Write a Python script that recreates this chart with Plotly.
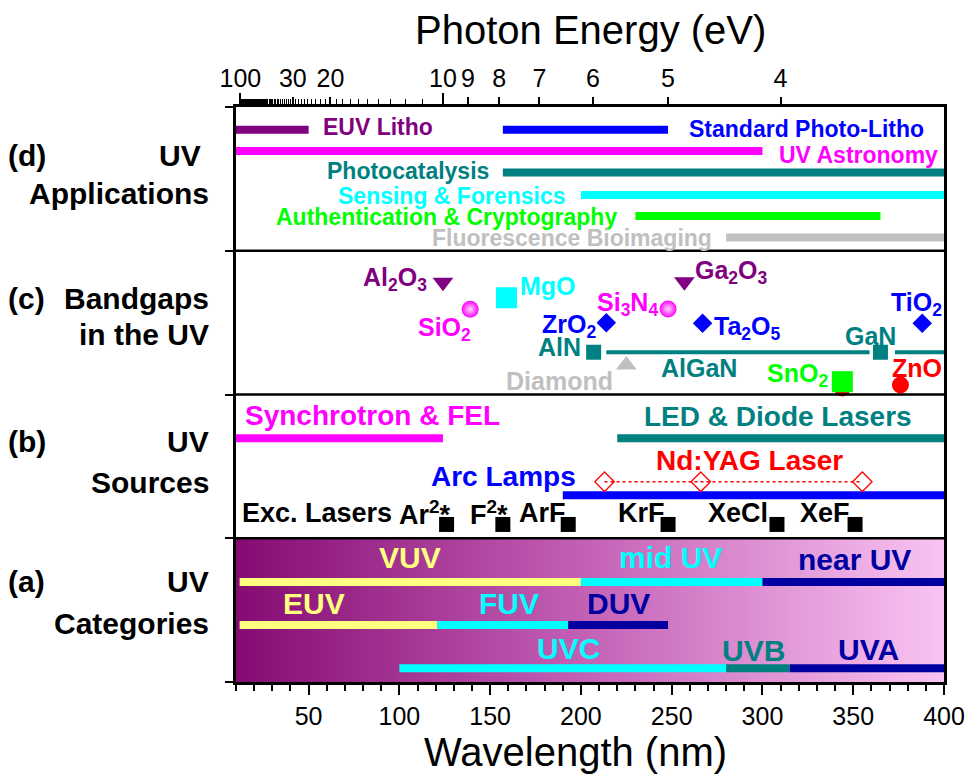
import plotly.graph_objects as go

FONT = "Liberation Sans, Arial, sans-serif"
HC = 1239.84  # eV*nm, converts photon energy to wavelength

# ---------------- (d) UV applications: wavelength spans (nm) ----------------
app_labels = ["EUV Litho", "Standard Photo-Litho", "UV Astronomy", "Photocatalysis",
              "Sensing & Forensics", "Authentication & Cryptography", "Fluorescence Bioimaging"]
app_start = [10, 157, 10, 157, 200, 230, 280]
app_end = [50, 248, 300, 400, 400, 365, 400]

# ---------------- (c) bandgaps expressed as wavelength (nm) ----------------
gap_labels = ["Al<sub>2</sub>O<sub>3</sub>", "SiO<sub>2</sub>", "MgO", "ZrO<sub>2</sub>", "AlN",
              "Diamond", "Si<sub>3</sub>N<sub>4</sub>", "Ga<sub>2</sub>O<sub>3</sub>",
              "Ta<sub>2</sub>O<sub>5</sub>", "SnO<sub>2</sub>", "GaN", "ZnO", "TiO<sub>2</sub>"]
gap_nm = [124, 139, 159, 214, 207, 225, 248, 257, 267, 344, 365, 376, 388]
algan_start = [214, 373]
algan_end = [359, 400]
hidden_zno_nm = [344]

# ---------------- (b) UV sources ----------------
src_labels = ["Synchrotron & FEL", "LED & Diode Lasers", "Arc Lamps"]
src_start = [10, 220, 190]
src_end = [124, 400, 400]
ndyag_nm = [213, 266, 355]
excimer_labels = ["Ar<sup>2</sup>*", "F<sup>2</sup>*", "ArF", "KrF", "XeCl", "XeF"]
excimer_nm = [126, 157, 193, 248, 308, 351]

# ---------------- (a) UV categories ----------------
cat_labels = ["VUV", "mid UV", "near UV", "EUV", "FUV", "DUV", "UVC", "UVB", "UVA"]
cat_start = [12, 200, 300, 12, 121, 193, 100, 280, 315]
cat_end = [200, 300, 400, 121, 193, 248, 280, 315, 400]

# ---------------- axis ticks ----------------
wl_ticks = [50, 100, 150, 200, 250, 300, 350, 400]
ev_ticks = [100, 30, 20, 10, 9, 8, 7, 6, 5, 4]
ev_long = [100, 10]
ev_minor = [e for e in range(11, 100) if e not in ev_ticks]

# ---------------- styling ----------------
PURPLE, BLUE, MAGENTA, TEAL = "#800080", "#0000FF", "#FF00FF", "#008080"
CYAN, GREEN, SILVER, RED = "#00FFFF", "#00FF00", "#C0C0C0", "#FF0000"
YELLOW, NAVY = "#FFFF80", "#0000A0"

# row heights (panel a = 0..1, b = 1..2, c = 2..3, d = 3..4)
app_rows = [3.842, 3.842, 3.694, 3.544, 3.388, 3.242, 3.092]
app_colors = [PURPLE, BLUE, MAGENTA, TEAL, CYAN, GREEN, SILVER]
app_text_pos = [(88, 3.862), (324, 3.849), (353, 3.666), (105, 3.556),
                (129, 3.382), (126, 3.233), (195, 3.092)]

gap_rows = [2.781, 2.593, 2.673, 2.499, 2.294, 2.205, 2.595, 2.785, 2.495, 2.089, 2.294, 2.066, 2.495]
gap_symbols = ["triangle-down", "circle", "square", "diamond", "square", "triangle-up", "circle",
               "triangle-down", "diamond", "square", "square", "circle", "diamond"]
gap_colors = [PURPLE, MAGENTA, CYAN, BLUE, TEAL, SILVER, MAGENTA, PURPLE, BLUE, GREEN, TEAL, RED, BLUE]
gap_sizes = [18, 17, 21, 15, 15, 18, 17, 18, 15, 21, 15, 17, 15]
gap_shaded = [False, True, False, False, False, False, True, False, False, False, False, False, False]
gap_text_pos = [(97.8, 2.803), (124.6, 2.456), (182, 2.756), (193.3, 2.48), (188.1, 2.328),
                (188.1, 2.095), (225.4, 2.63), (282.8, 2.849), (291.6, 2.466), (319.4, 2.136),
                (359.3, 2.409), (385, 2.182), (384.6, 2.63)]
algan_row = 2.294
algan_text_pos = (264.8, 2.182)
hidden_zno_row = 2.045

src_rows = [1.695, 1.695, 1.299]
src_colors = [MAGENTA, TEAL, BLUE]
src_text_pos = [(85, 1.857), (308.4, 1.846), (157.1, 1.428)]
ndyag_row = 1.393
ndyag_text_pos = (292.7, 1.539)
excimer_row = 1.096
excimer_text_y = 1.174
excimer_text_x = [114.3, 149.6, 178.6, 233.1, 286.4, 334.4]
exc_title_pos = (54.4, 1.174)

cat_rows = [0.696, 0.696, 0.696, 0.397, 0.397, 0.397, 0.095, 0.095, 0.095]
cat_bar_colors = [YELLOW, CYAN, NAVY, YELLOW, CYAN, NAVY, CYAN, TEAL, NAVY]
cat_text_colors = [YELLOW, CYAN, NAVY, YELLOW, CYAN, NAVY, CYAN, TEAL, NAVY]
cat_text_pos = [(106, 0.866), (249.2, 0.866), (350.5, 0.849), (52.7, 0.543), (160.6, 0.543),
                (220.6, 0.543), (193, 0.235), (295, 0.22), (358.2, 0.228)]

fig = go.Figure()
annotations = []


def label(x, y, text, color, size, xref="x", yref="y", xanchor="center", bold=True):
    annotations.append(dict(
        x=x, y=y, xref=xref, yref=yref, text=f"<b>{text}</b>" if bold else text,
        showarrow=False, xanchor=xanchor, yanchor="middle",
        font=dict(family=FONT, size=size, color=color)))


def bar(x0, x1, y, color, width=8):
    fig.add_trace(go.Scatter(x=[x0, x1], y=[y, y], mode="lines",
                             line=dict(color=color, width=width),
                             hoverinfo="skip", showlegend=False))


# gradient backdrop of panel (a)
fig.add_trace(go.Scatter(
    x=[10, 400, 400, 10, 10], y=[0, 0, 1, 1, 0], mode="lines", fill="toself",
    line=dict(width=0),
    fillgradient=dict(type="horizontal",
                      colorscale=[[0, "#850B72"], [0.5, "#C462B6"], [1, "#F9C4F3"]]),
    hoverinfo="skip", showlegend=False))

# (d) applications
for s, e, y, c, t, (tx, ty) in zip(app_start, app_end, app_rows, app_colors, app_labels, app_text_pos):
    bar(s, e, y, c)
    label(tx, ty, t, c, 23)

# (c) bandgaps
for s, e in zip(algan_start, algan_end):
    bar(s, e, algan_row, TEAL, width=4)
label(*algan_text_pos, "AlGaN", TEAL, 25)

fig.add_trace(go.Scatter(x=hidden_zno_nm, y=[hidden_zno_row] * len(hidden_zno_nm),
                         mode="markers", marker=dict(symbol="circle", size=17, color=RED),
                         hoverinfo="skip", showlegend=False))
for nm, y, sym, c, sz, shade, t, (tx, ty) in zip(gap_nm, gap_rows, gap_symbols, gap_colors, gap_sizes,
                                                 gap_shaded, gap_labels, gap_text_pos):
    marker = dict(symbol=sym, size=sz, color=c, line=dict(width=0))
    if shade:
        marker["gradient"] = dict(type="radial", color="#FFD8FF")
    fig.add_trace(go.Scatter(x=[nm], y=[y], mode="markers", marker=marker,
                             hoverinfo="skip", showlegend=False))
    label(tx, ty, t, c, 25)

# (b) sources
for s, e, y, c, t, (tx, ty) in zip(src_start, src_end, src_rows, src_colors, src_labels, src_text_pos):
    bar(s, e, y, c)
    label(tx, ty, t, c, 28)

fig.add_trace(go.Scatter(x=ndyag_nm, y=[ndyag_row] * len(ndyag_nm), mode="lines+markers",
                         line=dict(color=RED, width=1.5, dash="dot"),
                         marker=dict(symbol="diamond-open", size=15, color=RED, line=dict(width=1.3)),
                         hoverinfo="skip", showlegend=False))
label(*ndyag_text_pos, "Nd:YAG Laser", RED, 28)

fig.add_trace(go.Scatter(x=excimer_nm, y=[excimer_row] * len(excimer_nm), mode="markers",
                         marker=dict(symbol="square", size=15, color="black"),
                         hoverinfo="skip", showlegend=False))
label(*exc_title_pos, "Exc. Lasers", "black", 27)
for t, tx in zip(excimer_labels, excimer_text_x):
    label(tx, excimer_text_y, t, "black", 27)

# (a) categories
for s, e, y, bc, tc, t, (tx, ty) in zip(cat_start, cat_end, cat_rows, cat_bar_colors, cat_text_colors,
                                         cat_labels, cat_text_pos):
    bar(s, e, y, bc)
    label(tx, ty, t, tc, 30)

# companion traces so the top axes are drawn
for ax in ("x2", "x3"):
    fig.add_trace(go.Scatter(x=[None], y=[None], xaxis=ax, yaxis="y", mode="markers",
                             hoverinfo="skip", showlegend=False))

# panel names on the left
panel_text = [
    ("(d)", "UV", "Applications", 3.66, 3.40, -0.046),
    ("(c)", "Bandgaps", "in the UV", 2.665, 2.42, -0.036),
    ("(b)", "UV", "Sources", 1.67, 1.39, -0.036),
    ("(a)", "UV", "Categories", 0.70, 0.41, -0.036),
]
for tag, first, second, y1, y2, xr in panel_text:
    label(-0.325, y1, tag, "black", 30, xref="paper", xanchor="left")
    label(xr, y1, first, "black", 30, xref="paper", xanchor="right")
    label(-0.036, y2, second, "black", 30, xref="paper", xanchor="right")

# axis titles
label(0.5, 1.134, "Photon Energy (eV)", "black", 40, xref="paper", yref="paper", bold=False)
label(0.479, -0.122, "Wavelength (nm)", "black", 40, xref="paper", yref="paper", bold=False)

# panel separators
shapes = [dict(type="line", xref="paper", x0=0, x1=1, yref="y", y0=k, y1=k,
               line=dict(color="black", width=2.5)) for k in (1, 2, 3)]

common = dict(range=[10, 400], showgrid=False, zeroline=False, tickcolor="black", automargin=False,
              tickfont=dict(family=FONT, size=25, color="black"))

fig.update_layout(
    width=969, height=778, autosize=False,
    margin=dict(l=236, r=25, t=107, b=96, pad=0, autoexpand=False),
    paper_bgcolor="white", plot_bgcolor="white",
    showlegend=False,
    annotations=annotations,
    shapes=shapes,
    xaxis=dict(**common, tickmode="array", tickvals=wl_ticks, ticks="outside", ticklen=10, tickwidth=2,
               minor=dict(dtick=10, tick0=0, ticks="outside", ticklen=6, tickwidth=1.5, tickcolor="black"),
               showline=True, linecolor="black", linewidth=2.5),
    xaxis2=dict(**common, overlaying="x", side="top", anchor="y", tickmode="array",
                tickvals=[HC / e for e in ev_ticks], ticktext=[str(e) for e in ev_ticks],
                ticks="outside", ticklen=7, tickwidth=2,
                minor=dict(tickmode="array", tickvals=[HC / e for e in ev_minor], ticks="outside",
                           ticklen=5, tickwidth=1.2, tickcolor="black"),
                showline=True, linecolor="black", linewidth=2.5),
    xaxis3=dict(range=[10, 400], overlaying="x", side="top", anchor="y", tickmode="array",
                tickvals=[HC / e for e in ev_long], ticks="outside", ticklen=13, tickwidth=2,
                tickcolor="black", showticklabels=False, showline=False, showgrid=False, zeroline=False,
                automargin=False),
    yaxis=dict(range=[0, 4], tickmode="array", tickvals=[0, 1, 2, 3, 4], ticks="outside", ticklen=8,
               tickwidth=2, tickcolor="black", showticklabels=False, showgrid=False, zeroline=False,
               showline=True, linecolor="black", linewidth=2.5, mirror=True, automargin=False),
)

fig.write_html("out.html")
